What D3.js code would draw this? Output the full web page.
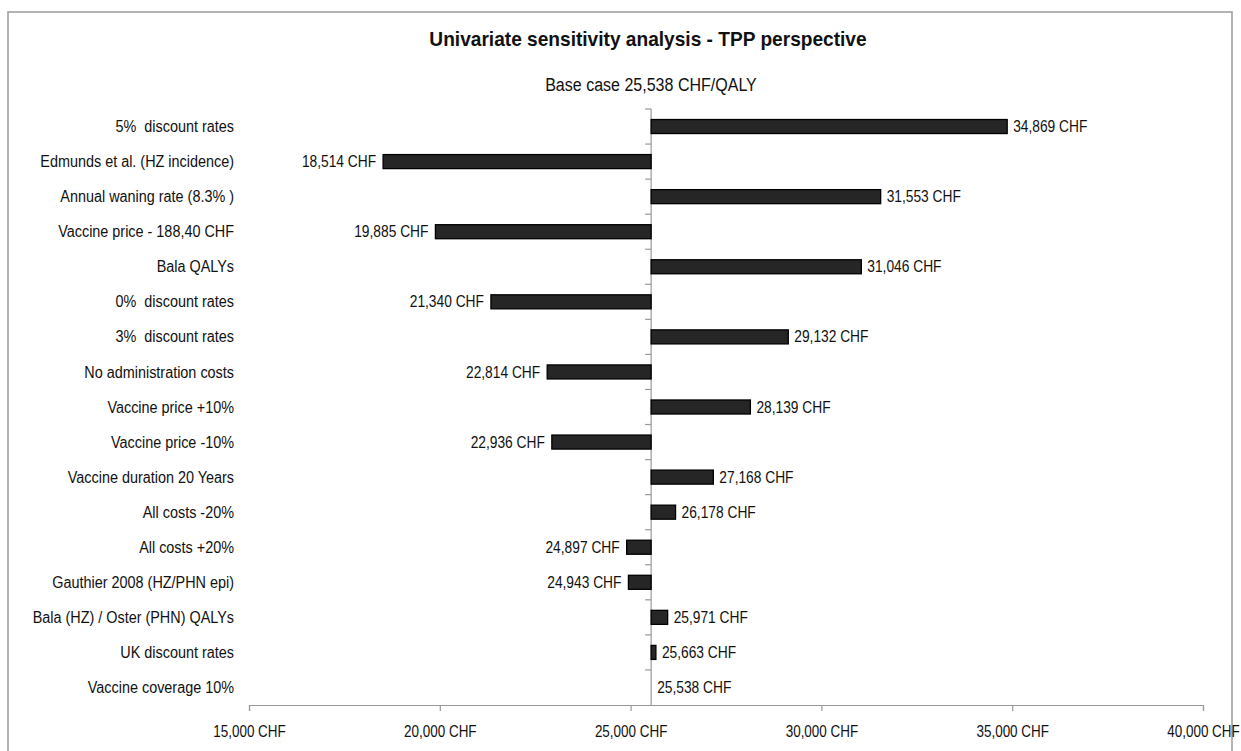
<html>
<head>
<style>
  body { margin:0; background:#fff; }
  svg text { font-family: "Liberation Sans Narrow", "Arial Narrow", "Liberation Sans", Arial, sans-serif; fill:#111; }
</style>
</head>
<body>
<svg id="chart" width="1241" height="751"></svg>
<script src="https://cdn.jsdelivr.net/npm/d3@7"></script>
<script>
// scenario names, top to bottom
var scenarios = ["5%  discount rates", "Edmunds et al. (HZ incidence)", "Annual waning rate (8.3% )",
  "Vaccine price - 188,40 CHF", "Bala QALYs", "0%  discount rates", "3%  discount rates",
  "No administration costs", "Vaccine price +10%", "Vaccine price -10%", "Vaccine duration 20 Years",
  "All costs -20%", "All costs +20%", "Gauthier 2008 (HZ/PHN epi)", "Bala (HZ) / Oster (PHN) QALYs",
  "UK discount rates", "Vaccine coverage 10%"];
var icer = [34869, 18514, 31553, 19885, 31046, 21340, 29132, 22814, 28139, 22936, 27168,
  26178, 24897, 24943, 25971, 25663, 25538];
var baseCase = 25538;
var xTicks = [15000, 20000, 25000, 30000, 35000, 40000];

var svg = d3.select("#chart");
var fmt = d3.format(",");

// no narrow font installed: squeeze text horizontally
function narrow(sel, f) {
  sel.each(function(){
    var w = this.getComputedTextLength();
    d3.select(this).attr("textLength", w * f).attr("lengthAdjust", "spacingAndGlyphs");
  });
}

// outer frame
svg.append("rect").attr("x", 8).attr("y", 12).attr("width", 1224).attr("height", 760)
  .attr("fill", "none").attr("stroke", "#9a9a9a").attr("stroke-width", 1.5);

svg.append("text").attr("x", 648).attr("y", 46).attr("text-anchor", "middle")
  .style("font-size", "21px").style("font-weight", "bold")
  .text("Univariate sensitivity analysis - TPP perspective").call(narrow, 0.91);
svg.append("text").attr("x", 651).attr("y", 91).attr("text-anchor", "middle")
  .style("font-size", "18px").text("Base case 25,538 CHF/QALY").call(narrow, 0.89);

var x = d3.scaleLinear().domain([15000, 40000]).range([249, 1203]);
var y = d3.scaleBand().domain(scenarios).range([109, 705]);
var barH = y.bandwidth() * 0.4;

// bottom axis
var xAxis = svg.append("g").attr("transform", "translate(0,705)")
  .call(d3.axisBottom(x).tickValues(xTicks).tickSize(6).tickPadding(15)
    .tickFormat(function(d){ return fmt(d) + " CHF"; }));
xAxis.select(".domain").attr("stroke", "#999").attr("stroke-width", 1.2);
xAxis.selectAll(".tick line").attr("stroke", "#999").attr("stroke-width", 1.2);
xAxis.selectAll("text").style("font-size", "16px").attr("fill", "#111")
  .style("font-family", "'Liberation Sans Narrow', 'Arial Narrow', 'Liberation Sans', sans-serif")
  .call(narrow, 0.84);

// base case line with category ticks
var x0 = x(baseCase);
svg.append("line").attr("x1", x0).attr("x2", x0).attr("y1", 109).attr("y2", 705)
  .attr("stroke", "#999").attr("stroke-width", 1.2);
svg.selectAll(".cattick").data(scenarios).enter().append("line")
  .attr("x1", x0 - 6).attr("x2", x0)
  .attr("y1", function(d){ return y(d); }).attr("y2", function(d){ return y(d); })
  .attr("stroke", "#999").attr("stroke-width", 1.2);

// category labels
svg.selectAll(".cat").data(scenarios).enter().append("text")
  .attr("x", 234).attr("y", function(d){ return y(d) + y.bandwidth()/2; })
  .attr("dy", "0.35em").attr("text-anchor", "end").style("font-size", "16px")
  .style("white-space", "pre")
  .text(function(d){ return d; }).call(narrow, 0.9);

var rows = scenarios.map(function(s, i){ return {name: s, v: icer[i]}; });

svg.selectAll(".bar").data(rows).enter().append("rect")
  .attr("x", function(d){ return Math.min(x(d.v), x0); })
  .attr("width", function(d){ return Math.abs(x(d.v) - x0); })
  .attr("y", function(d){ return y(d.name) + (y.bandwidth() - barH)/2; })
  .attr("height", barH)
  .attr("fill", "#262626").attr("stroke", "#000").attr("stroke-width", 1.3);

svg.selectAll(".val").data(rows).enter().append("text")
  .attr("x", function(d){ return d.v < baseCase ? x(d.v) - 7 : x(d.v) + 6; })
  .attr("y", function(d){ return y(d.name) + y.bandwidth()/2; })
  .attr("dy", "0.35em")
  .attr("text-anchor", function(d){ return d.v < baseCase ? "end" : "start"; })
  .style("font-size", "16px")
  .text(function(d){ return fmt(d.v) + " CHF"; }).call(narrow, 0.86);
</script>
</body>
</html>
